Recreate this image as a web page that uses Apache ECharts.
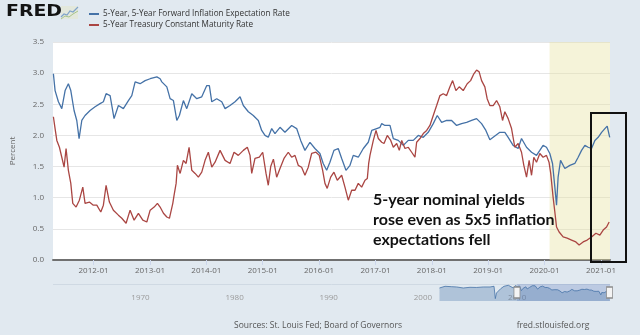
<!DOCTYPE html>
<html><head><meta charset="utf-8">
<script src="https://cdn.jsdelivr.net/npm/echarts@6/dist/echarts.min.js"></script>
<style>html,body{margin:0;padding:0;background:#e1e9f0}#c{width:640px;height:335px}</style>
</head><body><div id="c"></div><script>
// ---- data (decimal years, percent) ----
const fwdName = '5-Year, 5-Year Forward Inflation Expectation Rate';
const t5Name = '5-Year Treasury Constant Maturity Rate';
const fwdDates = [2011.287,2011.317,2011.376,2011.436,2011.495,2011.553,2011.596,2011.654,2011.702,2011.743,2011.791,2011.849,2011.938,2012.027,2012.115,2012.174,2012.222,2012.293,2012.363,2012.440,2012.528,2012.617,2012.677,2012.736,2012.824,2012.913,2013.002,2013.121,2013.179,2013.209,2013.238,2013.298,2013.356,2013.415,2013.475,2013.521,2013.592,2013.652,2013.741,2013.830,2013.918,2014.007,2014.053,2014.096,2014.184,2014.273,2014.332,2014.420,2014.509,2014.598,2014.656,2014.745,2014.833,2014.922,2014.982,2015.041,2015.099,2015.160,2015.218,2015.307,2015.395,2015.514,2015.603,2015.674,2015.750,2015.839,2015.927,2016.016,2016.074,2016.135,2016.193,2016.264,2016.340,2016.401,2016.477,2016.548,2016.606,2016.695,2016.784,2016.872,2016.933,2017.021,2017.080,2017.110,2017.168,2017.257,2017.316,2017.404,2017.493,2017.582,2017.670,2017.759,2017.848,2017.936,2018.025,2018.096,2018.174,2018.262,2018.351,2018.440,2018.528,2018.617,2018.706,2018.794,2018.883,2018.959,2019.030,2019.089,2019.119,2019.207,2019.296,2019.355,2019.443,2019.532,2019.592,2019.681,2019.770,2019.858,2019.917,2019.975,2020.035,2020.094,2020.142,2020.183,2020.213,2020.241,2020.284,2020.360,2020.449,2020.537,2020.596,2020.656,2020.715,2020.773,2020.833,2020.892,2020.950,2021.011,2021.069,2021.110,2021.155];
const fwdValues = [2.99,2.72,2.54,2.43,2.72,2.83,2.72,2.40,2.24,1.95,2.24,2.32,2.40,2.46,2.51,2.54,2.67,2.64,2.27,2.48,2.43,2.56,2.64,2.86,2.83,2.88,2.91,2.94,2.91,2.86,2.86,2.78,2.59,2.56,2.24,2.32,2.56,2.43,2.67,2.59,2.62,2.80,2.80,2.54,2.59,2.54,2.43,2.48,2.54,2.62,2.48,2.38,2.32,2.24,2.08,2.00,1.97,2.11,2.03,2.13,2.05,2.16,2.11,1.92,1.76,1.89,1.79,1.71,1.55,1.44,1.57,1.76,1.79,1.63,1.44,1.52,1.68,1.65,1.79,1.89,2.08,2.11,2.13,2.19,2.16,2.16,1.95,1.92,1.84,1.92,1.92,2.00,1.97,2.05,2.19,2.32,2.21,2.24,2.24,2.16,2.19,2.21,2.24,2.27,2.19,2.08,1.93,1.97,1.97,2.05,2.05,1.97,1.84,1.79,1.95,1.81,1.73,1.68,1.76,1.84,1.81,1.71,1.55,1.17,0.88,1.33,1.60,1.47,1.52,1.55,1.65,1.76,1.84,1.81,1.79,1.92,1.97,2.05,2.11,2.15,1.97];
const t5Dates = [2011.287,2011.317,2011.348,2011.394,2011.436,2011.477,2011.512,2011.553,2011.596,2011.631,2011.690,2011.748,2011.809,2011.849,2011.926,2011.996,2012.057,2012.128,2012.174,2012.222,2012.280,2012.351,2012.440,2012.500,2012.576,2012.647,2012.718,2012.794,2012.872,2012.943,2013.002,2013.073,2013.131,2013.179,2013.238,2013.298,2013.344,2013.404,2013.427,2013.463,2013.486,2013.534,2013.592,2013.640,2013.693,2013.741,2013.800,2013.858,2013.918,2013.977,2014.035,2014.096,2014.154,2014.243,2014.332,2014.420,2014.491,2014.567,2014.656,2014.727,2014.775,2014.805,2014.863,2014.940,2015.000,2015.059,2015.099,2015.142,2015.190,2015.248,2015.307,2015.378,2015.454,2015.514,2015.573,2015.631,2015.691,2015.750,2015.809,2015.869,2015.945,2016.004,2016.064,2016.105,2016.145,2016.206,2016.264,2016.323,2016.401,2016.459,2016.518,2016.578,2016.637,2016.695,2016.755,2016.814,2016.855,2016.879,2016.902,2016.961,2017.009,2017.050,2017.080,2017.110,2017.151,2017.209,2017.270,2017.316,2017.376,2017.422,2017.465,2017.523,2017.582,2017.642,2017.700,2017.730,2017.789,2017.848,2017.908,2017.966,2018.025,2018.085,2018.144,2018.202,2018.262,2018.321,2018.369,2018.427,2018.486,2018.557,2018.628,2018.688,2018.746,2018.794,2018.840,2018.883,2018.941,2018.982,2019.030,2019.089,2019.149,2019.207,2019.255,2019.296,2019.355,2019.415,2019.473,2019.532,2019.592,2019.633,2019.681,2019.727,2019.770,2019.810,2019.858,2019.917,2019.975,2020.035,2020.080,2020.110,2020.152,2020.183,2020.213,2020.259,2020.330,2020.401,2020.479,2020.555,2020.613,2020.684,2020.755,2020.833,2020.910,2020.980,2021.039,2021.099,2021.145];
const t5Values = [2.30,2.11,1.92,1.81,1.65,1.49,1.79,1.44,1.23,0.91,0.85,0.96,1.17,0.91,0.93,0.88,0.88,0.77,0.88,1.20,0.93,0.80,0.72,0.67,0.59,0.80,0.64,0.75,0.64,0.61,0.80,0.85,0.91,0.85,0.75,0.69,0.67,0.91,1.04,1.23,1.52,1.39,1.60,1.55,1.81,1.44,1.39,1.33,1.41,1.60,1.73,1.49,1.57,1.76,1.60,1.55,1.73,1.68,1.76,1.81,1.68,1.39,1.63,1.65,1.73,1.39,1.20,1.50,1.62,1.33,1.47,1.63,1.73,1.65,1.68,1.52,1.49,1.36,1.49,1.71,1.73,1.68,1.44,1.23,1.15,1.33,1.41,1.28,1.36,1.17,0.96,1.12,1.12,1.23,1.17,1.28,1.31,1.55,1.68,1.92,2.08,1.95,1.97,1.89,1.87,2.00,1.92,1.81,1.87,1.76,1.92,1.79,1.81,1.73,1.65,1.89,1.95,2.03,2.08,2.16,2.32,2.48,2.64,2.67,2.64,2.78,2.88,2.72,2.78,2.72,2.83,2.88,2.99,3.05,3.02,2.88,2.78,2.59,2.48,2.48,2.56,2.46,2.24,2.38,2.27,2.11,1.81,1.87,1.73,1.52,1.33,1.60,1.36,1.65,1.57,1.71,1.65,1.68,1.57,1.39,1.01,0.77,0.53,0.45,0.37,0.35,0.32,0.29,0.24,0.29,0.32,0.37,0.43,0.40,0.48,0.53,0.61];
// navigator: 5y5y history before the visible window
const navPreDates = [2003.05,2003.64,2004.30,2004.88,2005.58,2006.29,2007.00,2007.70,2008.42,2008.84,2008.92,2008.98,2009.10,2009.19,2009.55,2009.90,2010.36,2010.89,2011.10];
const navPreValues = [2.45,2.77,2.70,2.64,2.45,2.58,2.55,2.64,2.64,2.77,1.50,0.45,1.50,1.83,2.32,2.77,2.96,2.45,2.90];
const navLabelYears = [1970,1980,1990,2000,2010];
const navRange = [1962, 2021.16];
const viewRange = [2011.28, 2021.16];
const recession = [2020.09, 2021.16];

function toTime(y){const Y=Math.floor(y);const a=Date.UTC(Y,0,1),b=Date.UTC(Y+1,0,1);return a+(y-Y)*(b-a);}
const fwdData = fwdDates.map((d,i)=>[toTime(d), fwdValues[i]]);
const t5Data = t5Dates.map((d,i)=>[toTime(d), t5Values[i]]);
const navData = navPreDates.map((d,i)=>[d, navPreValues[i]]).concat(fwdDates.map((d,i)=>[d, fwdValues[i]]));

const FONT = 'Open Sans';
const chart = echarts.init(document.getElementById('c'), null, {renderer:'canvas'});
chart.setOption({
  backgroundColor:'#e1e9f0',
  animation:false,
  textStyle:{fontFamily:FONT},
  grid:[
    {left:53,right:30,top:42,bottom:75,show:true,backgroundColor:'#ffffff',borderWidth:0,outerBoundsMode:'none'},
    {left:53,right:30,top:284,height:17,outerBoundsMode:'none'}
  ],
  legend:{left:84,top:5,orient:'vertical',itemWidth:10,itemHeight:2,itemGap:3,icon:'rect',selectedMode:false,
    textStyle:{fontSize:8.2,color:'#333',fontFamily:FONT,padding:[0,0,0,-1]},data:[fwdName,t5Name]},
  xAxis:[
    {type:'time',gridIndex:0,min:toTime(viewRange[0]),max:toTime(viewRange[1]),
      minInterval:365*864e5,maxInterval:366*864e5,splitNumber:10,
      axisLine:{show:true,onZero:false,lineStyle:{color:'#707070',width:2}},
      axisTick:{show:true,length:5,lineStyle:{color:'#ccd6eb'}},
      splitLine:{show:false},
      axisLabel:{color:'#666',fontSize:8,margin:7,showMinLabel:false,showMaxLabel:false,hideOverlap:false,
        formatter:v=>{const d=new Date(v);return d.getUTCFullYear()+'-'+String(d.getUTCMonth()+1).padStart(2,'0');}}},
    {type:'value',gridIndex:1,min:navRange[0],max:navRange[1],interval:1,
      axisLine:{show:false},axisTick:{show:false},splitLine:{show:false},
      axisLabel:{color:'#9a9a9a',fontSize:8,margin:-7,align:'left',padding:[0,0,0,3],
        formatter:v=>navLabelYears.includes(v)?String(v):''}}
  ],
  yAxis:[
    {type:'value',gridIndex:0,min:0,max:3.5,interval:0.5,name:'Percent',nameLocation:'middle',nameGap:36,nameRotate:90,
      nameTextStyle:{color:'#666',fontSize:8,fontFamily:FONT},
      axisLine:{show:false},axisTick:{show:false},
      axisLabel:{color:'#666',fontSize:8,margin:9,formatter:v=>v.toFixed(1)},
      splitLine:{lineStyle:{color:'#e6e6e6',width:1}}},
    {type:'value',gridIndex:1,min:0,max:3.2,interval:3.2,axisLine:{show:false},axisTick:{show:false},axisLabel:{show:false},
      splitLine:{show:true,showMinLine:false,lineStyle:{color:'#cfd9e3'}}}
  ],
  series:[
    {type:'line',name:'recession',xAxisIndex:0,yAxisIndex:0,data:[],z:1,silent:true,
      markArea:{silent:true,itemStyle:{color:'rgba(230,225,160,0.4)'},
        data:[[{xAxis:toTime(recession[0])},{xAxis:toTime(recession[1])}]]}},
    {type:'line',name:fwdName,xAxisIndex:0,yAxisIndex:0,data:fwdData,symbol:'none',z:3,
      lineStyle:{color:'#4572a7',width:1.3},itemStyle:{color:'#4572a7'}},
    {type:'line',name:t5Name,xAxisIndex:0,yAxisIndex:0,data:t5Data,symbol:'none',z:3,
      lineStyle:{color:'#aa4643',width:1.3},itemStyle:{color:'#aa4643'}},
    {type:'line',name:'nav',xAxisIndex:1,yAxisIndex:1,data:navData,symbol:'none',z:3,silent:true,
      lineStyle:{color:'#4572a7',width:0.8},areaStyle:{color:'rgba(69,114,167,0.45)'},
      markArea:{silent:true,itemStyle:{color:'rgba(102,133,194,0.3)'},data:[[{xAxis:viewRange[0]},{xAxis:viewRange[1]}]]},
      markPoint:{silent:true,symbol:'rect',symbolSize:[6,11],label:{show:false},
        itemStyle:{color:'#f4f4f4',borderColor:'#8a8a8a',borderWidth:1},
        data:[{coord:[viewRange[0],1.6]},{coord:[viewRange[1]-0.05,1.6]}]}}
  ],
  graphic:[
    {type:'text',x:6,y:4,scaleX:1.18,style:{text:'FRED',fontSize:16,fontWeight:'bold',fontFamily:'DejaVu Sans',fill:'#141414'}},
    {type:'rect',shape:{x:61,y:6,width:17,height:13},style:{fill:'#e3e8dc'}},
    {type:'polyline',shape:{points:[[61,17],[64,14],[67,15],[70,11],[73,12],[78,7]]},style:{stroke:'#7fa3c9',lineWidth:1.2,fill:'none'}},
    {type:'polyline',shape:{points:[[61,19],[65,16],[69,17],[73,14],[78,11]]},style:{stroke:'#a8c48a',lineWidth:1,fill:'none'}},
    {type:'text',x:373,y:190,z:50,style:{text:'5-year nominal yields\nrose even as 5x5 inflation\nexpectations fell',
      fontFamily:'Lato',fontWeight:'bold',fontSize:16,lineHeight:20,fill:'#111'}},
    {type:'rect',z:100,shape:{x:591,y:113,width:35,height:149},style:{fill:'none',stroke:'#111',lineWidth:2}},
    {type:'text',x:318,y:326,style:{text:'Sources: St. Louis Fed; Board of Governors',align:'center',verticalAlign:'middle',fontSize:8.5,fill:'#555',fontFamily:FONT}},
    {type:'text',x:553,y:326,style:{text:'fred.stlouisfed.org',align:'center',verticalAlign:'middle',fontSize:8.5,fill:'#555',fontFamily:FONT}}
  ]
});
</script></body></html>
